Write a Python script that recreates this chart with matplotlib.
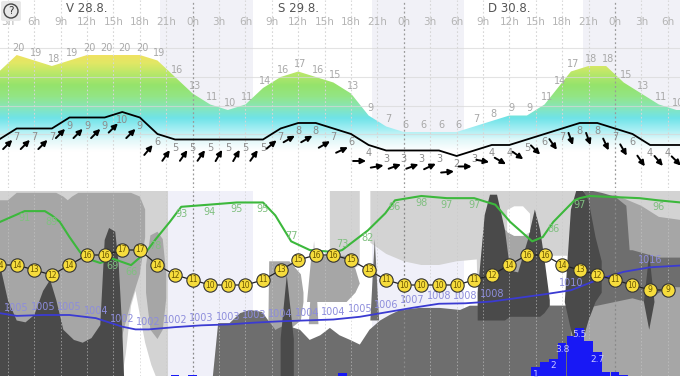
import matplotlib
matplotlib.use("Agg")
import matplotlib.pyplot as plt
import matplotlib.transforms as mtrans
from matplotlib.patches import FancyArrowPatch, FancyBboxPatch, Circle
from matplotlib.colors import LinearSegmentedColormap
import numpy as np

# hours are counted from 0h of Friday 28.8.
day_labels = ["V 28.8.", "S 29.8.", "D 30.8."]
day_label_hours = [12, 36, 60]
tick_hours = [3, 6, 9, 12, 15, 18, 21, 24, 27, 30, 33, 36, 39, 42, 45, 48, 51, 54,
              57, 60, 63, 66, 69, 72, 75, 78]
night_start = [20.3, 44.4, 68.4]
night_end = [30.85, 54.9, 81.0]

# top panel: temperature area and wind
temp_hours = [2, 4, 6, 8, 10, 12, 14, 16, 18, 20, 22, 24, 26, 28, 30, 32, 34, 36, 38, 40,
              42, 44, 46, 48, 50, 52, 54, 56, 58, 60, 62, 64, 65.5, 67, 69, 71, 73, 75,
              77, 79, 81]
temp_vals = [17, 20, 19, 18, 19, 20, 20, 20, 20, 19, 16, 13, 11, 10, 11, 14, 16, 17, 16, 15,
             13, 9, 7, 6, 6, 6, 6, 7, 8, 9, 9, 11, 14, 17, 18, 18, 15, 13, 11, 10, 10]

wind_hours = [2, 4, 6, 8, 10, 12, 14, 16, 18, 20, 22, 24, 26, 28, 30, 32, 34, 36, 38, 40,
              42, 44, 46, 48, 50, 52, 54, 56, 58, 60, 62, 64, 66, 68, 70, 72, 74, 76, 78, 80]
wind_speed = [5, 7, 7, 7, 9, 9, 9, 10, 9, 6, 5, 5, 5, 5, 5, 5, 7, 8, 8, 7,
              6, 4, 3, 3, 3, 3, 2, 3, 4, 4, 5, 6, 7, 8, 8, 7, 6, 4, 4, 4]
wind_dir = [225, 225, 225, 225, 225, 225, 225, 225, 225, 220, 215, 215, 215, 210, 210, 215,
            230, 240, 240, 240, 245, 270, 260, 250, 250, 245, 265, 270, 280, 300, 305, 315,
            325, 340, 340, 335, 330, 325, 320, 315]

# bottom panel: air temperature circles
circle_hours = [2, 4, 6, 8, 10, 12, 14, 16, 18, 20, 22, 24, 26, 28, 30, 32, 34, 36, 38, 40,
                42, 44, 46, 48, 50, 52, 54, 56, 58, 60, 62, 64, 66, 68, 70, 72, 74, 76, 78]
circle_temp = [14, 14, 13, 12, 14, 16, 16, 17, 17, 14, 12, 11, 10, 10, 10, 11, 13, 15, 16, 16,
               15, 13, 11, 10, 10, 10, 10, 11, 12, 14, 16, 16, 14, 13, 12, 11, 10, 9, 9]

# relative humidity
hum_hours = [2.1, 4.9, 7.2, 8.0, 8.9, 10.0, 11.2, 12.0, 13.5, 14.9, 17.0, 18.7, 19.8, 21.4,
             22.7, 25.9, 29.0, 32.0, 33.4, 35.2, 37.3, 40.2, 41.0, 43.9, 45.9, 47.0, 50.0,
             52.9, 56.0, 58.4, 60.1, 62.6, 63.8, 65.0, 67.4, 68.0, 69.1, 74.8, 76.9, 79.5]
hum_vals = [86, 91, 91, 89, 86, 79, 72, 69, 67, 69, 66, 72, 78, 86,
            93, 94, 95, 95, 89, 77, 73, 72, 73, 82, 90, 96, 98,
            97, 97, 94, 86, 77, 79, 86, 96, 97, 98, 97, 96, 95]
hum_label_hours = [4.9, 8.0, 14.9, 17.0, 19.8, 22.7, 25.9, 29.0, 32.0, 35.2, 41.0, 43.9,
                   47.0, 50.0, 52.9, 56.0, 65.0, 68.0, 76.9]
hum_label_above = [35.2, 41.0]

# pressure
pres_hours = [2.1, 4, 7, 10, 13, 16, 17.5, 19, 22, 25, 28, 31, 34, 37, 40, 43, 46, 49, 52,
              55, 58, 61, 64, 67, 70, 73, 76, 79.5]
pres_vals = [1005.4, 1004.8, 1005.0, 1005.0, 1004.3, 1002.4, 1001.8, 1001.8, 1002.3, 1002.7,
             1002.9, 1003.3, 1003.6, 1003.8, 1004.0, 1004.6, 1005.6, 1006.6, 1007.5, 1007.6,
             1008.0, 1008.8, 1009.6, 1010.5, 1012.8, 1014.6, 1015.6, 1016.0]
pres_label_hours = [4, 7, 10, 13, 16, 19, 22, 25, 28, 31, 34, 37, 40, 43, 46, 49, 52, 55, 58,
                    67, 76]

# precipitation (mm per hour)
rain_hours = [22, 24, 41, 63, 64, 65, 66, 67, 68, 69, 70, 71, 72, 73]
rain_mm = [0.15, 0.15, 0.4, 1.0, 1.6, 2.0, 3.8, 4.6, 5.5, 4.0, 2.7, 0.5, 0.5, 0.1]
rain_label_hours = [63, 65, 66, 68, 70]

# cloud layers, level 0 (ground) .. 100 (top); NaN separates segments
nan = np.nan
light_h = [2.1, 16.0, 16.4, 17.0, 17.5, 18.0, 18.6, 19.3, 19.8, 21.2, nan,
           39.6, 43.0, nan,
           44.2, 46, 48, 50, 52, 54, 56.3, 56.6, 62.0, 63.5, 64.5, 66.6, 67.0, 80]
light_lo = [0, 0, 12, 38, 46, 33, 18, 6, 0, 0, nan,
            50, 60, nan,
            72, 66, 62, 60, 60, 62, 63, 0, 0, 62, 65, 65, 0, 0]
light_hi = [100, 100, 100, 100, 100, 100, 100, 100, 100, 100, nan,
            100, 100, nan,
            100, 100, 100, 100, 100, 100, 100, 100, 100, 100, 100, 100, 100, 100]

mid_h = [2.1, 3.0, 4.0, 8.5, 9.3, 9.8, 10.3, 11.0, 15.0, 16.0, 17.0, 18.0, 18.6, nan,
         18.7, 19.2, 20.0, 20.6, 21.0, nan,
         32.6, 32.7, 35.0, 36.3, 36.6, nan,
         37.2, 37.8, 38.3, nan,
         37.0, 37.5, 41.5, 42.5, 43.0, nan,
         59.5, 60.5, 62.0, 62.5, nan,
         64.5, 66.6, 67.0, 70, 72, 73.5, 75, 77, 80]
mid_lo = [0, 0, 0, 0, 0, 0, 0, 0, 0, 22, 40, 55, 75, nan,
          45, 25, 20, 25, 42, nan,
          25, 25, 25, 30, 40, nan,
          28, 28, 28, nan,
          40, 40, 40, 45, 50, nan,
          30, 30, 30, 30, nan,
          0, 0, 0, 0, 0, 0, 0, 0, 0]
mid_hi = [95, 95, 99, 99, 97, 95, 97, 99, 99, 99, 99, 97, 90, nan,
          60, 76, 78, 74, 55, nan,
          25, 62, 62, 55, 45, nan,
          28, 73, 28, nan,
          40, 65, 65, 58, 50, nan,
          79, 76, 76, 73, nan,
          38, 38, 60, 96, 98, 95, 92, 86, 84]

dark_h = [26.3, 26.9, 28.2, 29.4, 30.5, 31.9, 32.6, 33.4, 34.5, 36.2, 37.3, 38.5, 39.6, 40.7,
          41.9, 43.0, 44.1, 45.3, 46.4, 47.6, 49.8, 52.1, 54.4, 55.5, 56.6, 60, 63.8, 64.5,
          66.6, 67.0, nan,
          44.2, 44.7, 45.2, nan,
          66.6, 68, 70, 72, 74, 75.5, 77, 78.5, 80, nan,
          68.5, 69.5, 70.5, 72, 73.3, 73.8]
dark_lo = [0] * 30 + [nan, 30, 30, 30, nan,
                      38, 36, 38, 40, 42, 40, 45, 48, 48, nan,
                      60, 60, 60, 60, 60, 60]
dark_hi = [0, 28.6, 28.6, 34, 35.7, 34.6, 30, 25, 27.5, 25, 19.5, 22, 26, 22,
           19.5, 17, 25, 30, 33, 35.7, 36.8, 36.8, 35.7, 38, 38, 38, 38, 38,
           38, 38, nan,
           30, 74, 30, nan,
           62, 66, 68, 68, 68, 66, 64, 64, 64, nan,
           100, 100, 99, 97, 92, 60]

black_h = [2.1, 3.0, 4.0, 5.0, 6.0, 7.0, 7.8, 8.5, 9.3, 10.5, 11.5, 12.5, 13.5, 14.0, 14.5,
           15.2, 15.6, 16.0, 16.2, nan,
           34.0, 34.7, 35.5, nan,
           56.4, 57.2, 57.8, 58.6, 59.5, 60.1, 61.0, 62.1, 62.9, 63.5, 64.0, 64.6, nan,
           66.3, 67.0, 67.6, 68.4, 69.0, 69.8, 70.5, nan,
           75.3, 75.9, 76.5]
black_lo = [0] * 19 + [nan, 0, 0, 0, nan,
                       30, 30, 30, 30, 30, 32, 32, 32, 32, 32, 34, 38, nan,
                       40, 25, 15, 20, 30, 40, 45, nan,
                       40, 25, 40]
black_hi = [60, 41, 30, 29, 33, 46, 52, 41, 25, 19.5, 18, 20.5, 27.5, 73.5, 80,
            78, 60, 25, 0, nan,
            20, 54.6, 20, nan,
            45, 87, 98, 98, 79, 57, 56, 73.5, 90, 79, 63, 41, nan,
            40, 90, 100, 100, 95, 75, 62, nan,
            40, 66, 40]

clear_h = [59.7, 60.5, 61.5, 62.3]
clear_lo = [78, 76, 76, 78]
clear_hi = [90, 92, 92, 88]

W, H = 680, 379
fig = plt.figure(figsize=(W / 100, H / 100), dpi=100)
fig.patch.set_facecolor("white")

x0, x1 = 2.1, 79.4
ax = fig.add_axes([0, (H - 188) / H, 1, 188 / H])
axb = fig.add_axes([0, 3 / H, 1, 185 / H])

for a in (ax, axb):
    a.set_xlim(x0, x1)
    a.set_axis_off()

# ---------------- top panel ----------------
ax.set_ylim(-4.18, 30)
for s, e in zip(night_start, night_end):
    ax.axvspan(s, e, color="#f1f1f7", lw=0, zorder=0)

stops = [(2.5, "#ffffff"), (4.5, "#e2f8f9"), (6.5, "#a4eef3"), (8.5, "#6fe3e8"),
         (10.5, "#88e6b8"), (12.5, "#93e585"), (14.5, "#95e36c"), (16.5, "#b6e76a"),
         (18.5, "#e0e865"), (20.5, "#f5e060"), (23.0, "#f6d862")]
vmin, vmax = 2.5, 23.0
cmap = LinearSegmentedColormap.from_list(
    "tgrad", [((t - vmin) / (vmax - vmin), c) for t, c in stops])
grad = np.linspace(30, -4.18, 400)[:, None]
im = ax.imshow(grad, extent=[x0, x1, -4.18, 30], aspect="auto", cmap=cmap,
               vmin=vmin, vmax=vmax, origin="upper", zorder=1, interpolation="bilinear")
poly = ax.fill_between(temp_hours, temp_vals, -10, color="none", lw=0)
im.set_clip_path(poly.get_paths()[0], transform=ax.transData)

for t in [21.27, 16.0, 10.73, 5.64]:
    ax.axhline(t, color="#d8d8d8", lw=0.8, alpha=0.7, zorder=2)

for h in tick_hours:
    if h % 24 == 0:
        ax.axvline(h, color="#9a9a9a", lw=0.9, ls=(0, (1.5, 2)), zorder=2)
        axb.axvline(h, color="#8a8a8a", lw=0.9, ls=(0, (1.5, 2)), zorder=6)
    else:
        ax.axvline(h, color="#d6d6d6", lw=0.8, ls=(0, (1.5, 2)), zorder=2)
        axb.axvline(h, color="#c8c8c8", lw=0.7, ls=(0, (1.5, 2)), zorder=6, alpha=0.6)
    ax.text(h, 0.883, "%dh" % (h % 24), transform=ax.get_xaxis_transform(),
            ha="center", va="center", fontsize=7.5, color="#b4b4b4", zorder=5)

for lab, h in zip(day_labels, day_label_hours):
    ax.text(h, 0.957, lab, transform=ax.get_xaxis_transform(), ha="center",
            va="center", fontsize=8.5, color="#555555", zorder=5)

for h, t in zip(temp_hours, temp_vals):
    if x0 - 0.5 < h < x1 + 0.5:
        ax.annotate(str(t), (h, t), xytext=(1.5, 5.2), textcoords="offset points",
                    ha="center", va="center", fontsize=7, color="#a8a8a8", zorder=5)

axw = ax.twinx()
axw.set_axis_off()
axw.set_xlim(x0, x1)
axw.set_ylim(-3.82, 30.36)
axw.plot(wind_hours, wind_speed, color="black", lw=1.3, zorder=4)
for h, w in zip(wind_hours, wind_speed):
    axw.annotate(str(w), (h, w), xytext=(0, -6), textcoords="offset points",
                 ha="center", va="center", fontsize=7, color="#8c8c8c")

for h, w, d in zip(wind_hours, wind_speed, wind_dir):
    X, Y = axw.transData.transform((h, w))
    cx, cy = X - 9, Y - 16
    ang = np.radians(270 - d)
    dx, dy = 6.5 * np.cos(ang), 6.5 * np.sin(ang)
    arr = FancyArrowPatch((cx - dx, cy - dy), (cx + dx, cy + dy),
                          transform=mtrans.IdentityTransform(), arrowstyle="-|>",
                          mutation_scale=8, lw=1.4, color="black",
                          shrinkA=0, shrinkB=0)
    fig.add_artist(arr)

# help button
btn = FancyBboxPatch((1 / W, (H - 21) / H), 20 / W, 20 / H, boxstyle="round,pad=0,rounding_size=0.004",
                     transform=fig.transFigure, facecolor="#e8e8e8", edgecolor="none")
fig.add_artist(btn)
fig.add_artist(Circle((11, H - 11), 7, transform=mtrans.IdentityTransform(),
                      facecolor="none", edgecolor="#444444", lw=1))
fig.text(11 / W, (H - 11) / H, "?", ha="center", va="center", fontsize=7.5, color="#333333")

# ---------------- bottom panel ----------------
axb.set_ylim(0, 100)
axb.axvspan(x0, x1, color="white", zorder=0)
for s, e in zip(night_start, night_end):
    axb.axvspan(s, e, color="#f0f0f9", lw=0, zorder=0)

axb.fill_between(light_h, light_lo, light_hi, color="#d3d3d3", lw=0, zorder=1)
axb.fill_between(mid_h, mid_lo, mid_hi, color="#a6a6a6", lw=0, zorder=2)
axb.fill_between(dark_h, dark_lo, dark_hi, color="#6e6e6e", lw=0, zorder=3)
axb.fill_between(black_h, black_lo, black_hi, color="#4a4a4a", lw=0, zorder=4)
axb.fill_between(clear_h, clear_lo, clear_hi, color="white", lw=0, zorder=5)

axr = axb.twinx()
axp = axb.twinx()
axh = axb.twinx()
axc = axb.twinx()
for a in (axr, axp, axh, axc):
    a.set_axis_off()
    a.set_xlim(x0, x1)

axr.set_ylim(0, 21.2)
axr.bar(rain_hours, rain_mm, width=0.98, color="#1818f5", lw=0)
for h, r in zip(rain_hours, rain_mm):
    if h in rain_label_hours:
        lab = "%g" % r
        axr.annotate(lab, (h, r), xytext=(0, -5), textcoords="offset points",
                     ha="center", va="center", fontsize=6.5, color="#c8c8ff")

axp.set_ylim(991.44, 1032.56)
axp.plot(pres_hours, pres_vals, color="#3b3bd2", lw=1.3)
for h, p in zip(pres_hours, pres_vals):
    if h in pres_label_hours:
        axp.annotate("%d" % round(p), (h, p), xytext=(0, 5.5), textcoords="offset points",
                     ha="center", va="center", fontsize=7, color="#8d8ddc")

axh.set_ylim(98 - 180 / 2.16, 98 + 5 / 2.16)
axh.plot(hum_hours, hum_vals, color="#3cb83c", lw=1.5)
for h, v in zip(hum_hours, hum_vals):
    if h in hum_label_hours:
        dy = 4 if h in hum_label_above else -5
        axh.annotate(str(v), (h, v), xytext=(0, dy), textcoords="offset points",
                     ha="center", va="center", fontsize=7, color="#80bf80")

axc.set_ylim(-8.2, 28.8)
axc.plot(circle_hours, circle_temp, color="#222222", lw=0.9)
axc.plot(circle_hours, circle_temp, "o", ms=9.6, mfc="#f6dc3c", mec="#333333", mew=0.8)
for h, t in zip(circle_hours, circle_temp):
    axc.text(h, t, str(t), ha="center", va="center", fontsize=5.5, color="#6a5600")

fig.savefig("out.png", dpi=100)
